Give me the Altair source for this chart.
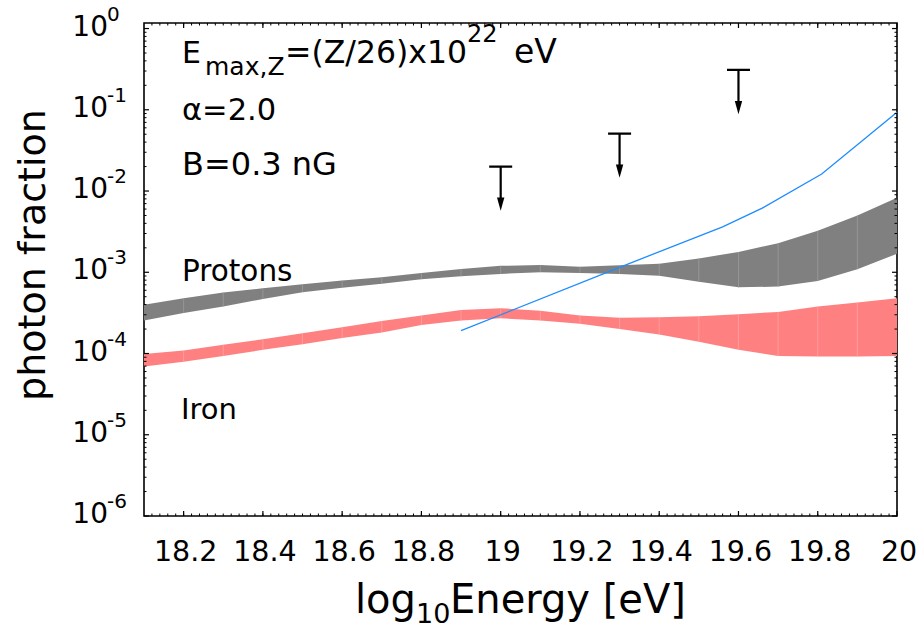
import altair as alt
import pandas as pd

FONT = "DejaVu Sans"

# log10(E/eV) grid on which both bands are tabulated
energy = [18.1, 18.2, 18.3, 18.4, 18.5, 18.6, 18.7, 18.8, 18.9, 19.0,
          19.1, 19.2, 19.3, 19.4, 19.5, 19.6, 19.7, 19.8, 19.9, 20.0]

# photon fraction band for a proton composition (upper / lower edge)
proton_hi = [3.98e-4, 4.79e-4, 5.62e-4, 6.37e-4, 7.13e-4, 7.94e-4, 8.71e-4, 9.77e-4, 1.10e-3, 1.20e-3,
             1.23e-3, 1.17e-3, 1.22e-3, 1.27e-3, 1.48e-3, 1.78e-3, 2.28e-3, 3.24e-3, 5.01e-3, 8.24e-3]
proton_lo = [2.54e-4, 3.16e-4, 3.80e-4, 4.68e-4, 5.69e-4, 6.46e-4, 7.24e-4, 8.22e-4, 8.91e-4, 9.55e-4,
             1.00e-3, 9.77e-4, 9.55e-4, 9.04e-4, 7.67e-4, 6.52e-4, 6.67e-4, 7.83e-4, 1.09e-3, 1.69e-3]

# photon fraction band for an iron composition (upper / lower edge)
iron_hi = [9.89e-5, 1.09e-4, 1.28e-4, 1.50e-4, 1.78e-4, 2.11e-4, 2.51e-4, 2.93e-4, 3.44e-4, 3.61e-4,
           3.35e-4, 2.93e-4, 2.75e-4, 2.80e-4, 2.88e-4, 3.05e-4, 3.25e-4, 3.78e-4, 4.24e-4, 4.78e-4]
iron_lo = [6.90e-5, 7.94e-5, 9.33e-5, 1.11e-4, 1.30e-4, 1.55e-4, 1.82e-4, 2.25e-4, 2.54e-4, 2.72e-4,
           2.54e-4, 2.32e-4, 2.00e-4, 1.72e-4, 1.40e-4, 1.11e-4, 9.33e-5, 9.16e-5, 9.16e-5, 9.33e-5]

# thin blue curve
curve_energy = [18.9, 19.3, 19.56, 19.66, 19.81, 19.91, 20.0]
curve_frac = [1.91e-4, 1.15e-3, 3.63e-3, 6.17e-3, 1.62e-2, 4.07e-2, 9.33e-2]

# upper limits on the photon fraction
limit_energy = [19.0, 19.3, 19.6]
limit_frac = [0.020, 0.051, 0.31]

# axis ticks and their labels
x_major = [18.2, 18.4, 18.6, 18.8, 19.0, 19.2, 19.4, 19.6, 19.8, 20.0]
x_labels = ["18.2", "18.4", "18.6", "18.8", "19", "19.2", "19.4", "19.6", "19.8", "20"]
y_major = [1e-6, 1e-5, 1e-4, 1e-3, 1e-2, 1e-1, 1e0]
y_exponent = ["-6", "-5", "-4", "-3", "-2", "-1", "0"]

W, H = 753, 493
xs = alt.Scale(domain=[18.1, 20.0], nice=False, zero=False)
ys = alt.Scale(type="log", domain=[1e-6, 1.17], nice=False)

x_minor = [round(18.1 + 0.02 * i, 2) for i in range(1, 95)]
y_minor = [m * 10.0 ** k for k in range(-6, 0) for m in range(2, 10)]

bands = pd.DataFrame({"e": energy, "p_hi": proton_hi, "p_lo": proton_lo,
                      "fe_hi": iron_hi, "fe_lo": iron_lo})
inner = bands.iloc[1:-1]

Xn = alt.X("e:Q", scale=xs, axis=None)

proton_band = alt.Chart(bands).mark_area(color="#808080", opacity=1).encode(
    x=Xn, y=alt.Y("p_hi:Q", scale=ys, axis=None), y2="p_lo:Q")
iron_band = alt.Chart(bands).mark_area(color="#ff8080", opacity=1).encode(
    x=Xn, y=alt.Y("fe_hi:Q", scale=ys, axis=None), y2="fe_lo:Q")
proton_seams = alt.Chart(inner).mark_rule(color="#9c9c9c", strokeWidth=0.8).encode(
    x=Xn, y=alt.Y("p_hi:Q", scale=ys, axis=None), y2="p_lo:Q")
iron_seams = alt.Chart(inner).mark_rule(color="#ffa3a3", strokeWidth=0.8).encode(
    x=Xn, y=alt.Y("fe_hi:Q", scale=ys, axis=None), y2="fe_lo:Q")

curve = alt.Chart(pd.DataFrame({"e": curve_energy, "f": curve_frac})).mark_line(
    color="#1e8cff", strokeWidth=1.3).encode(x=Xn, y=alt.Y("f:Q", scale=ys, axis=None))

# upper-limit arrows: a T-bar with a stem, plus a filled head
limits = pd.DataFrame({"e": limit_energy, "f": limit_frac})
T_PATH = "M-1,0L1,0M0,0L0,3.0"
HEAD_PATH = "M-0.32,2.7L0.32,2.7L0,3.85Z"
limit_stem = alt.Chart(limits).mark_point(
    shape=T_PATH, size=529, filled=False, stroke="black", strokeWidth=2.2, opacity=1).encode(
    x=Xn, y=alt.Y("f:Q", scale=ys, axis=None))
limit_head = alt.Chart(limits).mark_point(
    shape=HEAD_PATH, size=529, filled=True, fill="black", strokeWidth=0, opacity=1).encode(
    x=Xn, y=alt.Y("f:Q", scale=ys, axis=None))


def tick_rules(values, channel, start, end, width=1.2):
    df = pd.DataFrame({"v": values})
    if channel == "x":
        enc = dict(x=alt.X("v:Q", scale=xs, axis=None), y=alt.value(start), y2=alt.value(end))
    else:
        enc = dict(y=alt.Y("v:Q", scale=ys, axis=None), x=alt.value(start), x2=alt.value(end))
    return alt.Chart(df).mark_rule(color="black", strokeWidth=width).encode(**enc)


# inward ticks on all four sides of the frame
ticks = [
    tick_rules(x_major, "x", H, H - 5), tick_rules(x_minor, "x", H, H - 2.5, 1),
    tick_rules(x_major, "x", 0, 5), tick_rules(x_minor, "x", 0, 2.5, 1),
    tick_rules(y_major, "y", 0, 5), tick_rules(y_minor, "y", 0, 2.5, 1),
    tick_rules(y_major, "y", W, W - 5), tick_rules(y_minor, "y", W, W - 2.5, 1),
]

xlab = pd.DataFrame({"v": x_major, "t": x_labels})
x_text = alt.Chart(xlab).mark_text(font=FONT, fontSize=28.5, align="center", baseline="alphabetic",
                                   dx=2, color="black").encode(
    x=alt.X("v:Q", scale=xs, axis=None), y=alt.value(H + 44.5), text="t:N")

ylab = pd.DataFrame({"v": y_major, "ex": y_exponent})
y_base = alt.Chart(ylab).mark_text(font=FONT, fontSize=28, align="right", baseline="alphabetic",
                                   dy=7, text="10", color="black").encode(
    y=alt.Y("v:Q", scale=ys, axis=None), x=alt.value(-36))
y_exp = alt.Chart(ylab).mark_text(font=FONT, fontSize=20, align="left", baseline="alphabetic",
                                  dy=-8, color="black").encode(
    y=alt.Y("v:Q", scale=ys, axis=None), x=alt.value(-37), text="ex:N")


def label(text, x, y, size, angle=0, align="left"):
    return alt.Chart(alt.Data(values=[{}])).mark_text(
        text=text, font=FONT, fontSize=size, align=align, baseline="alphabetic",
        angle=angle, color="black").encode(x=alt.value(x), y=alt.value(y))


texts = [
    label("E", 38, 40, 30),
    label("max,Z", 61, 51.5, 25),
    label("=(Z/26)x10", 141, 40, 31.5),
    label("22", 323, 18.5, 24),
    label("eV", 370, 40, 33),
    label("\u03b1=2.0", 38, 96.7, 30.5),
    label("B=0.3 nG", 38, 152.4, 32),
    label("Protons", 38, 257.7, 29.5),
    label("Iron", 37, 395.7, 29),
    label("photon fraction", -99, 232, 38, angle=270, align="center"),
    label("log", 211, 590, 40),
    label("10", 272, 600, 27),
    label("Energy [eV]", 306, 590, 40),
]

chart = alt.layer(
    proton_band, iron_band, proton_seams, iron_seams, curve,
    limit_stem, limit_head, *ticks, x_text, y_base, y_exp, *texts
).properties(
    width=W, height=H,
    autosize=alt.AutoSizeParams(type="none"),
    padding={"left": 144, "top": 23, "right": 26, "bottom": 123},
    background="white",
).configure_view(stroke="black", strokeWidth=1.6)

chart.save("out.html", embed_options={"renderer": "svg", "actions": False})
